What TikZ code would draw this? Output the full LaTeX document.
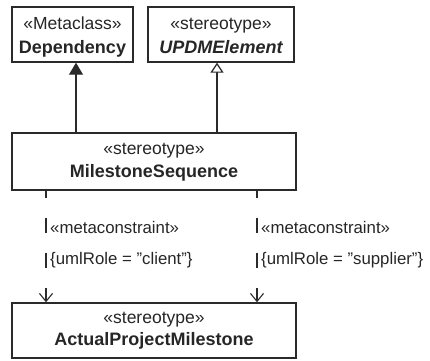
\documentclass[tikz,border=0pt]{standalone}
\usepackage{fontspec}
\setmainfont{Liberation Sans}
\usetikzlibrary{arrows.meta}
\definecolor{ln}{HTML}{2A2A2A}
\definecolor{tx}{HTML}{262626}
\newcommand{\sq}{\symbol{34}}
\tikzset{
  umlbox/.style={draw=ln, line width=1.4pt, rectangle, inner sep=0pt, fill=white},
  boxtxt/.style={text=tx, inner sep=0pt, anchor=base, font=\fontsize{17.5}{20}\selectfont},
  boxname/.style={boxtxt, font=\fontsize{18}{20}\selectfont\bfseries},
  lbl/.style={text=tx, inner sep=0pt, anchor=base west, font=\fontsize{16.8}{20}\selectfont},
  genfill/.style={draw=ln, line width=1.2pt, -{Triangle[length=12pt,width=14pt,fill=ln]}},
  genopen/.style={draw=ln, line width=1.2pt, -{Triangle[open,length=10pt,width=13pt,fill=white]}},
  depline/.style={draw=ln, line width=1.1pt, dash pattern=on 15pt off 20pt, dash phase=8pt,
    -{Straight Barb[length=8pt,width=13pt]}}
}
\begin{document}
\begin{tikzpicture}[x=1pt,y=-1pt]
\useasboundingbox (0,0) rectangle (430,360);
% boxes
\node[umlbox, minimum width=121pt, minimum height=55pt] (dep) at (72.5,34.5) {};
\node[umlbox, minimum width=146pt, minimum height=55pt] (updm) at (221,34.5) {};
\node[umlbox, minimum width=284pt, minimum height=57pt] (ms) at (154,161.5) {};
\node[umlbox, minimum width=284pt, minimum height=55pt] (apm) at (154,330.5) {};
% texts
\node[boxtxt] (depst) at (72.5,29.5) {«Metaclass»};
\node[boxname] (depnm) at (72.5,53) {Dependency};
\node[boxtxt] (updmst) at (221,29.5) {«stereotype»};
\node[boxname, font=\fontsize{18}{20}\selectfont\bfseries\itshape] (updmnm) at (221,53) {UPDMElement};
\node[boxtxt] (msst) at (154,154) {«stereotype»};
\node[boxname] (msnm) at (154,177) {MilestoneSequence};
\node[boxtxt] (apmst) at (154,323) {«stereotype»};
\node[boxname] (apmnm) at (154,345) {ActualProjectMilestone};
% generalizations
\coordinate (g1) at (76,0);
\coordinate (g2) at (217,0);
\draw[genfill] (g1 |- ms.north) -- (g1 |- dep.south);
\draw[genopen] (g2 |- ms.north) -- (g2 |- updm.south);
% dependencies
\coordinate (d1) at (46,0);
\coordinate (d2) at (257,0);
\draw[depline] (d1 |- ms.south) -- (d1 |- apm.north);
\draw[depline] (d2 |- ms.south) -- (d2 |- apm.north);
% labels
\node[lbl] (l1a) at (50,233) {«metaconstraint»};
\node[lbl] (l1b) at (50,264) {\{umlRole = \sq client\sq\}};
\node[lbl] (l2a) at (261,233) {«metaconstraint»};
\node[lbl] (l2b) at (261,264) {\{umlRole = \sq supplier\sq\}};
\end{tikzpicture}
\end{document}
